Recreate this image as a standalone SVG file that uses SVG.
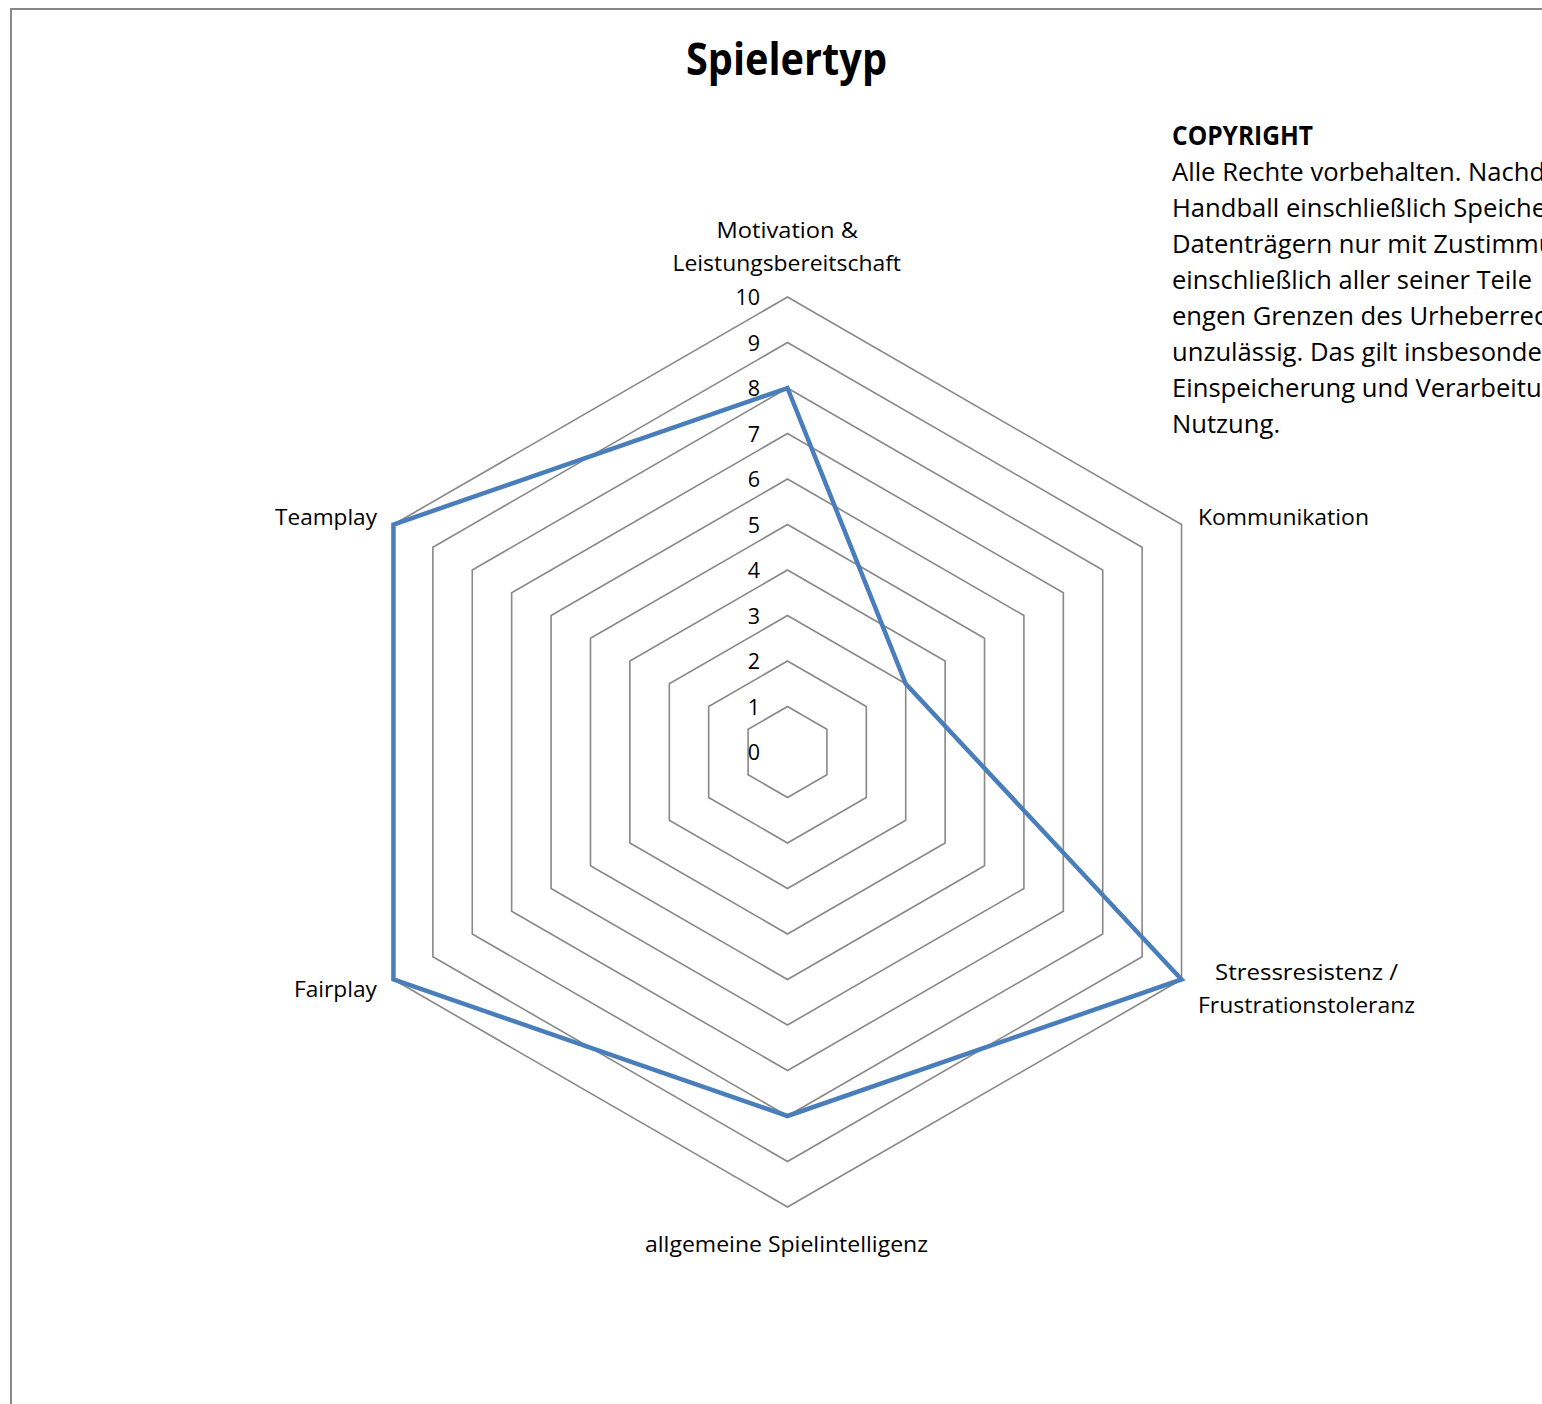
<svg xmlns="http://www.w3.org/2000/svg" width="1542" height="1404" viewBox="0 0 1542 1404">
<style>
.t{font-family:"Open Sans","Noto Sans",sans-serif;fill:#000}
.title{font-size:44px;font-weight:bold;text-anchor:middle}
.cp{font-size:25.6px}
.cpb{font-size:26px;font-weight:bold}
.ax{font-size:21.5px}
.tick{font-size:21.5px;text-anchor:end}
.ring{fill:none;stroke:#888888;stroke-width:1.6}
.data{fill:none;stroke:#4a7ebb;stroke-width:4.5;stroke-linejoin:miter}
</style>
<rect x="0" y="0" width="1542" height="1404" fill="#ffffff"/>
<rect x="11" y="9" width="1700" height="1600" fill="none" stroke="#888888" stroke-width="2"/>
<text class="t title" x="786.5" y="75" textLength="201" lengthAdjust="spacingAndGlyphs">Spielertyp</text>
<g id="copyright">
<text class="t cpb" x="1172" y="145" textLength="141" lengthAdjust="spacingAndGlyphs">COPYRIGHT</text>
<text class="t cp" x="1172" y="181">Alle Rechte vorbehalten. Nachd</text>
<text class="t cp" x="1172" y="217">Handball einschließlich Speiche</text>
<text class="t cp" x="1172" y="253">Datenträgern nur mit Zustimmu</text>
<text class="t cp" x="1172" y="289" textLength="360" lengthAdjust="spacingAndGlyphs">einschließlich aller seiner Teile</text>
<text class="t cp" x="1172" y="325">engen Grenzen des Urheberrec</text>
<text class="t cp" x="1172" y="361">unzulässig. Das gilt insbesonder</text>
<text class="t cp" x="1172" y="397">Einspeicherung und Verarbeitur</text>
<text class="t cp" x="1172" y="433">Nutzung.</text>
</g>
<g id="grid">
<polygon class="ring" points="787.5,706.5 826.9,729.25 826.9,774.75 787.5,797.5 748.1,774.75 748.1,729.25"/>
<polygon class="ring" points="787.5,661 866.31,706.5 866.31,797.5 787.5,843 708.69,797.5 708.69,706.5"/>
<polygon class="ring" points="787.5,615.5 905.71,683.75 905.71,820.25 787.5,888.5 669.29,820.25 669.29,683.75"/>
<polygon class="ring" points="787.5,570 945.12,661 945.12,843 787.5,934 629.88,843 629.88,661"/>
<polygon class="ring" points="787.5,524.5 984.52,638.25 984.52,865.75 787.5,979.5 590.48,865.75 590.48,638.25"/>
<polygon class="ring" points="787.5,479 1023.92,615.5 1023.92,888.5 787.5,1025 551.08,888.5 551.08,615.5"/>
<polygon class="ring" points="787.5,433.5 1063.33,592.75 1063.33,911.25 787.5,1070.5 511.67,911.25 511.67,592.75"/>
<polygon class="ring" points="787.5,388 1102.73,570 1102.73,934 787.5,1116 472.27,934 472.27,570"/>
<polygon class="ring" points="787.5,342.5 1142.14,547.25 1142.14,956.75 787.5,1161.5 432.86,956.75 432.86,547.25"/>
<polygon class="ring" points="787.5,297 1181.54,524.5 1181.54,979.5 787.5,1207 393.46,979.5 393.46,524.5"/>
</g>
<g id="ticks">
<text class="t tick" x="760" y="760">0</text>
<text class="t tick" x="760" y="714.5">1</text>
<text class="t tick" x="760" y="669">2</text>
<text class="t tick" x="760" y="623.5">3</text>
<text class="t tick" x="760" y="578">4</text>
<text class="t tick" x="760" y="532.5">5</text>
<text class="t tick" x="760" y="487">6</text>
<text class="t tick" x="760" y="441.5">7</text>
<text class="t tick" x="760" y="396">8</text>
<text class="t tick" x="760" y="350.5">9</text>
<text class="t tick" x="760" y="305">10</text>
</g>
<g id="connectors">
<polygon class="data" points="787.5,388 905.71,683.75 1181.54,979.5 787.5,1116 393.46,979.5 393.46,524.5"/>
</g>
<g id="axis-motivation">
<text class="t ax" x="716.5" y="238" textLength="141.5" lengthAdjust="spacingAndGlyphs">Motivation &amp;</text>
<text class="t ax" x="672.5" y="271" textLength="228.5" lengthAdjust="spacingAndGlyphs">Leistungsbereitschaft</text>
</g>
<g id="axis-kommunikation">
<text class="t ax" x="1198" y="525" textLength="171" lengthAdjust="spacingAndGlyphs">Kommunikation</text>
</g>
<g id="axis-stress">
<text class="t ax" x="1215" y="980" textLength="183" lengthAdjust="spacingAndGlyphs">Stressresistenz /</text>
<text class="t ax" x="1198" y="1013" textLength="217" lengthAdjust="spacingAndGlyphs">Frustrationstoleranz</text>
</g>
<g id="axis-spielintelligenz">
<text class="t ax" x="645" y="1251.5" textLength="283" lengthAdjust="spacingAndGlyphs">allgemeine Spielintelligenz</text>
</g>
<g id="axis-fairplay">
<text class="t ax" x="294" y="997" textLength="83" lengthAdjust="spacingAndGlyphs">Fairplay</text>
</g>
<g id="axis-teamplay">
<text class="t ax" x="275" y="525" textLength="102" lengthAdjust="spacingAndGlyphs">Teamplay</text>
</g>
</svg>
